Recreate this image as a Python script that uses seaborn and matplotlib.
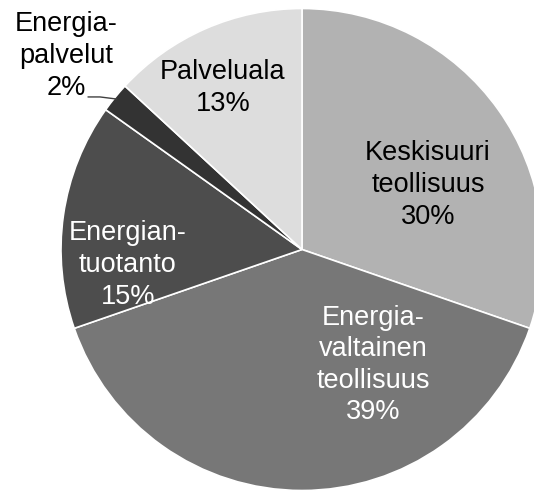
import matplotlib
matplotlib.use('Agg')
import matplotlib.pyplot as plt
import seaborn as sns
import numpy as np

# Data
sectors = ['Keskisuuri\nteollisuus', 'Energia-\nvaltainen\nteollisuus', 'Energian-\ntuotanto',
           'Energia-\npalvelut', 'Palveluala']
shares = [30, 39, 15, 2, 13]

# Styles
colors = ['#b2b2b2', '#777777', '#4d4d4d', '#333333', '#dddddd']
text_colors = ['black', 'white', 'white', 'black', 'black']
# label centres in axes data units (pie radius = 1)
label_pos = [(0.523, 0.268), (0.295, -0.479), (-0.722, -0.064), (-0.979, 0.803), (-0.328, 0.670)]

sns.set_theme(style='white')
plt.rcParams['font.family'] = ['Liberation Sans', 'DejaVu Sans']

fig = plt.figure(figsize=(5.34, 4.93), dpi=100)
ax = fig.add_axes([0, 0, 1, 1])

wedges, _ = ax.pie(shares, colors=colors, startangle=90, counterclock=False,
                   wedgeprops=dict(edgecolor='white', linewidth=1.2))

for name, val, (x, y), tc in zip(sectors, shares, label_pos, text_colors):
    ax.text(x, y, f'{name}\n{val}%', ha='center', va='center', color=tc,
            fontsize=19.5, linespacing=1.28)

# leader line for the small slice
w = wedges[3]
mid = np.deg2rad((w.theta1 + w.theta2) / 2)
ax.plot([-0.888, -0.838, 0.99 * np.cos(mid)], [0.633, 0.633, 0.99 * np.sin(mid)],
        color='#404040', lw=1)

# pie centre at (302, 249.5) px, radius 241 px
r = 241
ax.set_xlim(-302 / r, (534 - 302) / r)
ax.set_ylim(-(493 - 249.5) / r, 249.5 / r)
ax.set_aspect('auto')
ax.axis('off')

fig.savefig('out.png', dpi=100)
